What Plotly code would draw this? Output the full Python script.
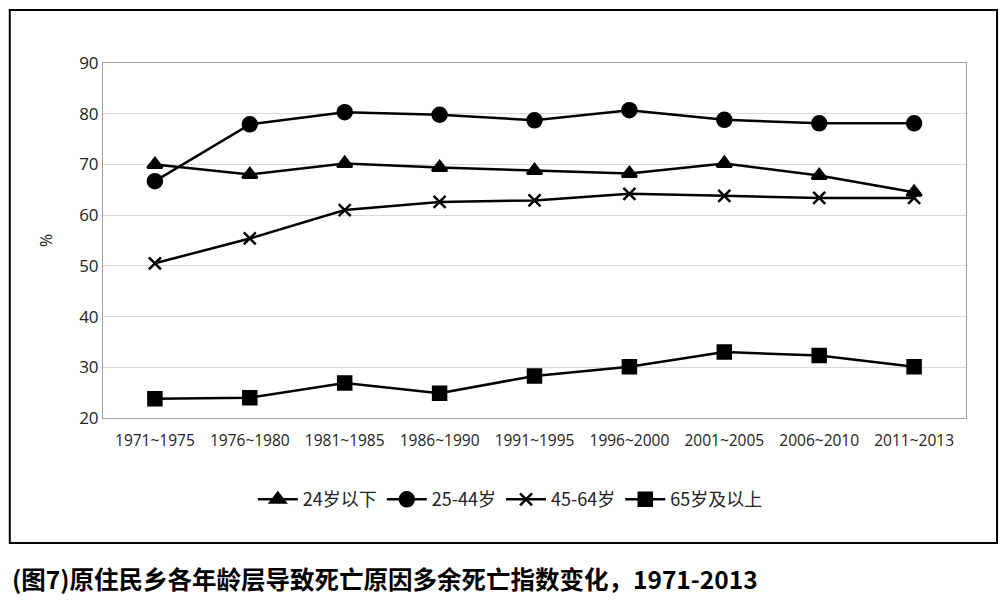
import plotly.graph_objects as go

# Data
periods = ["1971~1975", "1976~1980", "1981~1985", "1986~1990", "1991~1995",
           "1996~2000", "2001~2005", "2006~2010", "2011~2013"]
under_24 = [70.0, 68.0, 70.2, 69.4, 68.8, 68.2, 70.2, 67.8, 64.5]
age_25_44 = [66.7, 77.9, 80.3, 79.8, 78.7, 80.7, 78.8, 78.1, 78.1]
age_45_64 = [50.5, 55.4, 61.0, 62.6, 62.9, 64.2, 63.8, 63.4, 63.4]
over_65 = [23.8, 24.0, 26.9, 24.9, 28.3, 30.1, 33.0, 32.3, 30.1]

series = [
    ("24岁以下", under_24, "triangle-up", 13),
    ("25-44岁", age_25_44, "circle", 14),
    ("45-64岁", age_45_64, "x-thin", 12),
    ("65岁及以上", over_65, "square", 13),
]

fig = go.Figure()
for name, vals, sym, size in series:
    fig.add_trace(go.Scatter(
        x=periods, y=vals, name=name, mode="lines+markers",
        line=dict(color="black", width=2.5),
        marker=dict(symbol=sym, size=size, color="black",
                    line=dict(color="black", width=2.5)),
    ))

# page body has an 8px margin, so the figure is sized 1000x598
fig.update_layout(
    width=1000, height=598,
    margin=dict(l=95, r=42, t=55, b=188),
    paper_bgcolor="white", plot_bgcolor="white",
    font=dict(family="Open Sans, Noto Sans CJK SC", size=15, color="#222"),
    showlegend=True,
    legend=dict(orientation="h", x=0.472, xanchor="center", y=-0.23, yanchor="middle",
                font=dict(size=18, family="Noto Sans CJK SC"), itemwidth=40,
                tracegroupgap=0),
    xaxis=dict(showgrid=False, showline=True, linecolor="#a0a0a0", mirror=True,
               ticks="", tickfont=dict(size=15.5), ticklabelstandoff=8),
    yaxis=dict(range=[20, 90], dtick=10, showgrid=True, gridcolor="#d9d9d9",
               showline=True, linecolor="#a0a0a0", mirror=True, ticks="",
               ticklen=0, tickfont=dict(size=17), zeroline=False,
               title=dict(text="%", font=dict(size=16), standoff=22)),
)

# outer frame around chart
fig.add_shape(type="rect", xref="paper", yref="paper",
              x0=-0.108, x1=1.036, y0=-0.352, y1=1.149,
              line=dict(color="black", width=2))

# caption below frame
fig.add_annotation(
    text="(图7)原住民乡各年龄层导致死亡原因多余死亡指数变化，1971-2013",
    xref="paper", yref="paper", x=-0.108, y=-0.451, xanchor="left", yanchor="middle",
    showarrow=False, font=dict(size=24.5, family="Noto Sans CJK SC", color="black", weight="bold"),
)

fig.write_html("out.html")
